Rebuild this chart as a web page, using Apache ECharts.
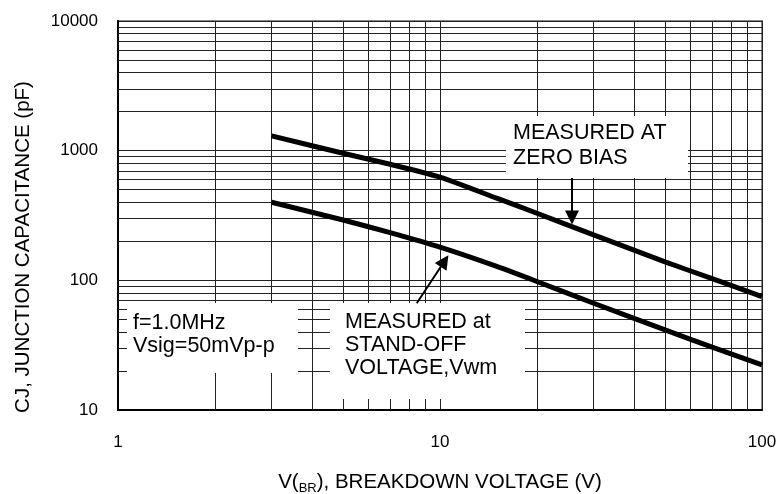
<!DOCTYPE html>
<html>
<head>
<meta charset="utf-8">
<script src="https://cdn.jsdelivr.net/npm/echarts@6/dist/echarts.min.js"></script>
<style>
  html, body { margin: 0; padding: 0; background: #fff; }
  #chart { width: 781px; height: 494px; }
</style>
</head>
<body>
<div id="chart"></div>
<script>
'use strict';
// V(BR) breakdown voltage (V)
const voltage = [3, 5, 7, 10, 15, 20, 30, 50, 70, 100];
// junction capacitance (pF)
const capZeroBias = [1300, 955, 785, 625, 430, 329, 224, 139, 103, 75];
const capStandOff = [400, 292, 233, 180, 128, 98, 66.6, 41.5, 30.5, 22.3];
// axis decades
const xTicks = [1, 10, 100];
const yTicks = [10, 100, 1000, 10000];
// minor grid values
const xMinor = [2, 3, 4, 5, 6, 7, 8, 9, 20, 30, 40, 50, 60, 70, 80, 90];
const yMinor = [20, 30, 40, 50, 60, 70, 80, 90, 200, 300, 400, 500, 600, 700, 800, 900,
    2000, 3000, 4000, 5000, 6000, 7000, 8000, 9000];
// annotation arrows [from, to]
const arrowZeroBias = [[25.7, 616], [25.7, 305]];
const arrowStandOff = [[8.47, 66.5], [10.33, 141]];

const FONT = 'Liberation Sans, Arial, sans-serif';

let myChart = echarts.init(document.getElementById('chart'));

function pairs(xs, ys) {
    let out = [];
    for (let i = 0; i < xs.length; i++) {
        out.push([xs[i], ys[i]]);
    }
    return out;
}

let gridLines = [];
for (let i = 0; i < xMinor.length; i++) {
    gridLines.push({ xAxis: xMinor[i] });
}
for (let i = 0; i < yMinor.length; i++) {
    gridLines.push({ yAxis: yMinor[i] });
}

let curveStyle = {
    type: 'line',
    showSymbol: false,
    symbol: 'none',
    smooth: 0.2,
    z: 10,
    lineStyle: { color: '#000', width: 5 },
    silent: true,
};

let option = {
    animation: false,
    backgroundColor: '#fff',
    textStyle: { fontFamily: FONT },
    grid: {
        left: 118,
        right: 19,
        top: 21,
        bottom: 84,
        containLabel: false,
        outerBoundsMode: 'none',
        show: true,
        borderColor: '#888',
        borderWidth: 2,
    },
    xAxis: {
        type: 'log',
        logBase: 10,
        min: xTicks[0],
        max: xTicks[xTicks.length - 1],
        axisLine: { lineStyle: { color: '#000', width: 2 } },
        axisTick: { show: false },
        axisLabel: { color: '#000', fontSize: 17, margin: 24, fontFamily: FONT,
            showMinLabel: true, showMaxLabel: true,
            formatter: function(v) { return String(v); } },
        splitLine: { show: true, lineStyle: { color: '#222', width: 1 } },
        name: 'V({sub|BR}), BREAKDOWN VOLTAGE (V)',
        nameLocation: 'middle',
        nameGap: 59,
        nameTextStyle: {
            color: '#000',
            fontSize: 20.5,
            fontFamily: FONT,
            rich: {
                sub: { fontSize: 13, padding: [13, 0, 0, 0], color: '#000', fontFamily: FONT },
            },
        },
    },
    yAxis: {
        type: 'log',
        logBase: 10,
        min: yTicks[0],
        max: yTicks[yTicks.length - 1],
        axisLine: { lineStyle: { color: '#000', width: 2 } },
        axisTick: { show: false },
        axisLabel: { color: '#000', fontSize: 17, margin: 20, fontFamily: FONT,
            showMinLabel: true, showMaxLabel: true,
            formatter: function(v) { return String(v); } },
        splitLine: { show: true, lineStyle: { color: '#222', width: 1 } },
    },
    series: [
        Object.assign({}, curveStyle, {
            name: 'zero bias',
            data: pairs(voltage, capZeroBias),
            markLine: {
                silent: true,
                z: 3,
                symbol: 'none',
                label: { show: false },
                emphasis: { disabled: true },
                lineStyle: { color: '#222', width: 1, type: 'solid' },
                data: gridLines,
            },
        }),
        Object.assign({}, curveStyle, {
            name: 'stand-off',
            data: pairs(voltage, capStandOff),
            markLine: {
                silent: true,
                z: 30,
                symbol: ['none', 'triangle'],
                symbolSize: 14,
                label: { show: false },
                emphasis: { disabled: true },
                lineStyle: { color: '#000', width: 2, type: 'solid' },
                itemStyle: { color: '#000' },
                data: [
                    [{ coord: arrowZeroBias[0] }, { coord: arrowZeroBias[1] }],
                    [{ coord: arrowStandOff[0] }, { coord: arrowStandOff[1] }],
                ],
            },
        }),
    ],
    graphic: [
        // white boxes behind notes
        { type: 'rect', z: 20, shape: { x: 506, y: 116, width: 182, height: 62 }, style: { fill: '#fff' } },
        { type: 'rect', z: 20, shape: { x: 127, y: 303, width: 171, height: 70 }, style: { fill: '#fff' } },
        { type: 'rect', z: 20, shape: { x: 330, y: 303, width: 195, height: 96 }, style: { fill: '#fff' } },
        {
            type: 'text', z: 21, x: 513, y: 121,
            style: { text: 'MEASURED AT\nZERO BIAS', fill: '#000', fontSize: 21.5, fontFamily: FONT,
                lineHeight: 24.5, verticalAlign: 'top' },
        },
        {
            type: 'text', z: 21, x: 133, y: 311,
            style: { text: 'f=1.0MHz\nVsig=50mVp-p', fill: '#000', fontSize: 21.5, fontFamily: FONT,
                lineHeight: 23.5, verticalAlign: 'top' },
        },
        {
            type: 'text', z: 21, x: 345, y: 311,
            style: { text: 'MEASURED at\nSTAND-OFF\nVOLTAGE,Vwm', fill: '#000', fontSize: 21.5, fontFamily: FONT,
                lineHeight: 23, verticalAlign: 'top' },
        },
        // y axis title
        {
            type: 'text', z: 21, x: 23, y: 247, rotation: Math.PI / 2,
            style: { text: 'CJ, JUNCTION CAPACITANCE (pF)', fill: '#000', fontSize: 20.5, fontFamily: FONT,
                align: 'center', verticalAlign: 'middle' },
        },
    ],
};

myChart.setOption(option);
</script>
</body>
</html>
